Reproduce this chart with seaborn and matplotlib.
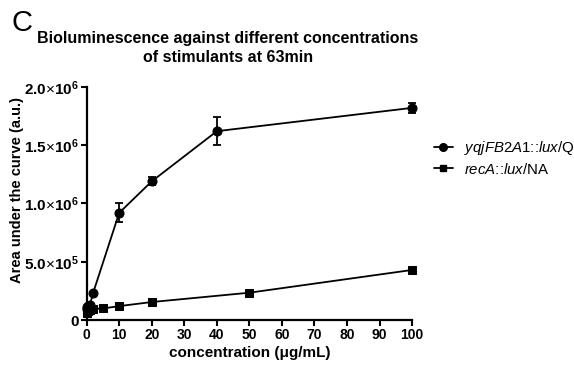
import numpy as np
import pandas as pd
import seaborn as sns
import matplotlib
matplotlib.use("Agg")
import matplotlib.pyplot as plt
from matplotlib.lines import Line2D

# ---- data ----
conc_q = [0, 0.25, 0.5, 1, 2, 10, 20, 40, 100]
auc_q = [95000, 110000, 120000, 130000, 235000, 920000, 1190000, 1620000, 1820000]
err_q = [10000, 10000, 10000, 10000, 10000, 80000, 35000, 120000, 40000]

conc_na = [0, 0.25, 0.5, 1, 2, 5, 10, 20, 50, 100]
auc_na = [65000, 75000, 80000, 88000, 95000, 100000, 120000, 155000, 235000, 430000]
err_na = [5000, 5000, 5000, 5000, 5000, 5000, 6000, 8000, 10000, 12000]

yticks = [0, 500000, 1000000, 1500000, 2000000]
ytick_labels = ["0",
                r"$\mathbf{5.0}{\times}\mathbf{10}^{\mathbf{5}}$",
                r"$\mathbf{1.0}{\times}\mathbf{10}^{\mathbf{6}}$",
                r"$\mathbf{1.5}{\times}\mathbf{10}^{\mathbf{6}}$",
                r"$\mathbf{2.0}{\times}\mathbf{10}^{\mathbf{6}}$"]
xticks = list(range(0, 101, 10))
legend_labels = [r"$\mathit{yqjFB2A1}\text{::}\mathit{lux}$/Q",
                 r"$\mathit{recA}\text{::}\mathit{lux}$/NA"]

sns.set_theme(style="ticks")
plt.rcParams['font.family'] = ['Liberation Sans', 'DejaVu Sans']
plt.rcParams['mathtext.fontset'] = 'custom'
plt.rcParams['mathtext.it'] = 'Liberation Sans:italic'
plt.rcParams['mathtext.rm'] = 'Liberation Sans'
plt.rcParams['mathtext.bf'] = 'Liberation Sans:bold'
plt.rcParams['text.color'] = 'black'
plt.rcParams['axes.labelcolor'] = 'black'
plt.rcParams['xtick.color'] = 'black'
plt.rcParams['ytick.color'] = 'black'

df_q = pd.DataFrame({"conc": conc_q, "auc": auc_q})
df_na = pd.DataFrame({"conc": conc_na, "auc": auc_na})

fig = plt.figure(figsize=(5.74, 3.65), dpi=100)
ax = fig.add_axes([0.151, 0.123, 0.567, 0.639])

sns.lineplot(data=df_q, x="conc", y="auc", ax=ax, color="black", marker="o",
             markersize=6.5, markeredgecolor="black", linewidth=1.3, clip_on=False)
sns.lineplot(data=df_na, x="conc", y="auc", ax=ax, color="black", marker="s",
             markersize=6, markeredgecolor="black", linewidth=1.3, clip_on=False)
ax.errorbar(conc_q, auc_q, yerr=err_q, fmt="none", ecolor="black", elinewidth=1.3,
            capsize=3, capthick=1.3, clip_on=False)
ax.errorbar(conc_na, auc_na, yerr=err_na, fmt="none", ecolor="black", elinewidth=1.3,
            capsize=3, capthick=1.3, clip_on=False)

ax.set_xlim(0, 100)
ax.set_ylim(0, 2000000)
ax.set_xticks(xticks)
ax.set_xticklabels([str(t) for t in xticks], fontsize=10, fontweight="bold", color="black")
ax.set_yticks(yticks)
ax.set_yticklabels(ytick_labels, fontsize=11, fontweight="bold", color="black")
ax.set_xlabel("concentration (μg/mL)", fontsize=11, fontweight="bold", labelpad=3, color="black")
ax.set_ylabel("Area under the curve (a.u.)", fontsize=10.5, fontweight="bold", color="black")
ax.yaxis.set_label_coords(-0.194, 0.558)

for s in ["top", "right"]:
    ax.spines[s].set_visible(False)
for s in ["left", "bottom"]:
    ax.spines[s].set_linewidth(1.6)
    ax.spines[s].set_color("black")
ax.tick_params(axis="both", width=1.5, length=4, color="black", labelcolor="black", pad=1.5)

fig.text(0.397, 0.868, "Bioluminescence against different concentrations\nof stimulants at 63min",
         ha="center", va="center", fontsize=11.5, fontweight="bold", linespacing=1.35,
         color="black")
fig.text(0.02, 0.937, "C", fontsize=21, ha="left", va="center", color="black")

handles = [
    Line2D([], [], color="black", marker="o", markersize=5.5, linewidth=1.3),
    Line2D([], [], color="black", marker="s", markersize=5, linewidth=1.3),
]
leg = fig.legend(handles, legend_labels, loc="upper left", bbox_to_anchor=(0.745, 0.635),
                 frameon=False, fontsize=10.8, handlelength=1.3, handletextpad=0.75,
                 labelspacing=0.3, borderaxespad=0)
for t in leg.get_texts():
    t.set_color("black")

fig.savefig("out.png", dpi=100)
